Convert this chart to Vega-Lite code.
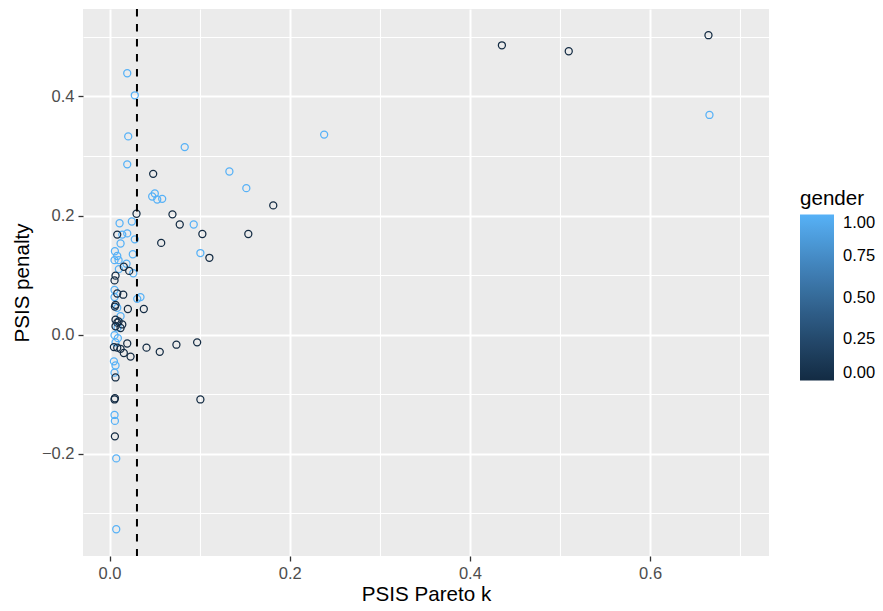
{
  "$schema": "https://vega.github.io/schema/vega-lite/v6.json",
  "width": 686,
  "height": 547,
  "autosize": {"type": "none"},
  "padding": {"left": 83, "top": 9, "right": 114, "bottom": 55},
  "background": "white",
  "config": {
    "view": {"fill": "#EBEBEB", "stroke": null},
    "font": "Liberation Sans",
    "axis": {
      "domain": false,
      "gridColor": "white",
      "tickColor": "#333333",
      "tickSize": 5,
      "tickWidth": 1.3,
      "labelColor": "#4D4D4D",
      "labelFontSize": 16.5,
      "labelFont": "Liberation Sans",
      "titleFont": "Liberation Sans",
      "titleFontSize": 20.6,
      "titleFontWeight": "normal",
      "titleColor": "black"
    }
  },
  "datasets": {
    "pts": [
      {"k": 0.0196, "penalty": 0.439, "gender": 1},
      {"k": 0.0280, "penalty": 0.402, "gender": 1},
      {"k": 0.0207, "penalty": 0.333, "gender": 1},
      {"k": 0.0834, "penalty": 0.315, "gender": 1},
      {"k": 0.0196, "penalty": 0.286, "gender": 1},
      {"k": 0.2382, "penalty": 0.336, "gender": 1},
      {"k": 0.1330, "penalty": 0.274, "gender": 1},
      {"k": 0.1518, "penalty": 0.246, "gender": 1},
      {"k": 0.0502, "penalty": 0.237, "gender": 1},
      {"k": 0.0473, "penalty": 0.232, "gender": 1},
      {"k": 0.0529, "penalty": 0.227, "gender": 1},
      {"k": 0.0584, "penalty": 0.228, "gender": 1},
      {"k": 0.0934, "penalty": 0.185, "gender": 1},
      {"k": 0.0111, "penalty": 0.187, "gender": 1},
      {"k": 0.0247, "penalty": 0.190, "gender": 1},
      {"k": 0.0141, "penalty": 0.168, "gender": 1},
      {"k": 0.0196, "penalty": 0.170, "gender": 1},
      {"k": 0.0280, "penalty": 0.160, "gender": 1},
      {"k": 0.0122, "penalty": 0.153, "gender": 1},
      {"k": 0.0059, "penalty": 0.140, "gender": 1},
      {"k": 0.0085, "penalty": 0.132, "gender": 1},
      {"k": 0.0055, "penalty": 0.125, "gender": 1},
      {"k": 0.0100, "penalty": 0.125, "gender": 1},
      {"k": 0.0258, "penalty": 0.135, "gender": 1},
      {"k": 0.0188, "penalty": 0.119, "gender": 1},
      {"k": 0.0103, "penalty": 0.110, "gender": 1},
      {"k": 0.0263, "penalty": 0.103, "gender": 1},
      {"k": 0.1008, "penalty": 0.137, "gender": 1},
      {"k": 0.0055, "penalty": 0.075, "gender": 1},
      {"k": 0.0055, "penalty": 0.063, "gender": 1},
      {"k": 0.0307, "penalty": 0.060, "gender": 1},
      {"k": 0.0343, "penalty": 0.063, "gender": 1},
      {"k": 0.0085, "penalty": 0.045, "gender": 1},
      {"k": 0.0122, "penalty": 0.031, "gender": 1},
      {"k": 0.0089, "penalty": 0.012, "gender": 1},
      {"k": 0.0055, "penalty": -0.001, "gender": 1},
      {"k": 0.0092, "penalty": -0.006, "gender": 1},
      {"k": 0.0066, "penalty": -0.013, "gender": 1},
      {"k": 0.0048, "penalty": -0.045, "gender": 1},
      {"k": 0.0066, "penalty": -0.052, "gender": 1},
      {"k": 0.0055, "penalty": -0.064, "gender": 1},
      {"k": 0.0055, "penalty": -0.135, "gender": 1},
      {"k": 0.0059, "penalty": -0.145, "gender": 1},
      {"k": 0.0074, "penalty": -0.208, "gender": 1},
      {"k": 0.0074, "penalty": -0.327, "gender": 1},
      {"k": 0.6659, "penalty": 0.369, "gender": 1},
      {"k": 0.4355, "penalty": 0.486, "gender": 0},
      {"k": 0.5097, "penalty": 0.476, "gender": 0},
      {"k": 0.6648, "penalty": 0.503, "gender": 0},
      {"k": 0.0484, "penalty": 0.270, "gender": 0},
      {"k": 0.1817, "penalty": 0.217, "gender": 0},
      {"k": 0.0299, "penalty": 0.203, "gender": 0},
      {"k": 0.0698, "penalty": 0.202, "gender": 0},
      {"k": 0.0779, "penalty": 0.185, "gender": 0},
      {"k": 0.1030, "penalty": 0.169, "gender": 0},
      {"k": 0.1540, "penalty": 0.169, "gender": 0},
      {"k": 0.0085, "penalty": 0.168, "gender": 0},
      {"k": 0.0573, "penalty": 0.154, "gender": 0},
      {"k": 0.1108, "penalty": 0.129, "gender": 0},
      {"k": 0.0158, "penalty": 0.114, "gender": 0},
      {"k": 0.0218, "penalty": 0.107, "gender": 0},
      {"k": 0.0066, "penalty": 0.099, "gender": 0},
      {"k": 0.0055, "penalty": 0.091, "gender": 0},
      {"k": 0.0085, "penalty": 0.069, "gender": 0},
      {"k": 0.0152, "penalty": 0.067, "gender": 0},
      {"k": 0.0066, "penalty": 0.050, "gender": 0},
      {"k": 0.0059, "penalty": 0.047, "gender": 0},
      {"k": 0.0203, "penalty": 0.043, "gender": 0},
      {"k": 0.0380, "penalty": 0.043, "gender": 0},
      {"k": 0.0066, "penalty": 0.025, "gender": 0},
      {"k": 0.0085, "penalty": 0.020, "gender": 0},
      {"k": 0.0141, "penalty": 0.017, "gender": 0},
      {"k": 0.0066, "penalty": 0.014, "gender": 0},
      {"k": 0.0122, "penalty": 0.011, "gender": 0},
      {"k": 0.0100, "penalty": 0.022, "gender": 0},
      {"k": 0.0048, "penalty": -0.021, "gender": 0},
      {"k": 0.0085, "penalty": -0.022, "gender": 0},
      {"k": 0.0122, "penalty": -0.024, "gender": 0},
      {"k": 0.0196, "penalty": -0.015, "gender": 0},
      {"k": 0.0158, "penalty": -0.031, "gender": 0},
      {"k": 0.0233, "penalty": -0.037, "gender": 0},
      {"k": 0.0410, "penalty": -0.022, "gender": 0},
      {"k": 0.0557, "penalty": -0.029, "gender": 0},
      {"k": 0.0742, "penalty": -0.017, "gender": 0},
      {"k": 0.0972, "penalty": -0.013, "gender": 0},
      {"k": 0.0066, "penalty": -0.072, "gender": 0},
      {"k": 0.0055, "penalty": -0.109, "gender": 0},
      {"k": 0.0059, "penalty": -0.107, "gender": 0},
      {"k": 0.1008, "penalty": -0.109, "gender": 0},
      {"k": 0.0059, "penalty": -0.171, "gender": 0}
    ]
  },
  "layer": [
    {
      "data": {"name": "pts"},
      "mark": {"type": "point", "opacity": 0},
      "encoding": {
        "x": {
          "field": "k", "type": "quantitative",
          "scale": {"domain": [-0.0295, 0.732], "nice": false, "zero": false},
          "axis": {"orient": "top", "values": [0.1, 0.3, 0.5, 0.7], "labels": false, "ticks": false, "domain": false, "grid": true, "gridWidth": 1.1, "title": null}
        },
        "y": {
          "field": "penalty", "type": "quantitative",
          "scale": {"domain": [-0.372, 0.547], "nice": false, "zero": false},
          "axis": {"orient": "right", "values": [-0.3, -0.1, 0.1, 0.3, 0.5], "labels": false, "ticks": false, "domain": false, "grid": true, "gridWidth": 1.1, "title": null}
        }
      }
    },
    {
      "data": {"name": "pts"},
      "mark": {"type": "point", "shape": "circle", "filled": false, "size": 50, "strokeWidth": 1.25, "opacity": 1},
      "encoding": {
        "x": {
          "field": "k", "type": "quantitative",
          "scale": {"domain": [-0.0295, 0.732], "nice": false, "zero": false},
          "axis": {"orient": "bottom", "values": [0, 0.2, 0.4, 0.6], "format": ".1f", "grid": true, "gridWidth": 2, "labelPadding": 4, "title": "PSIS Pareto k", "titlePadding": 3}
        },
        "y": {
          "field": "penalty", "type": "quantitative",
          "scale": {"domain": [-0.372, 0.547], "nice": false, "zero": false},
          "axis": {"orient": "left", "values": [-0.2, 0, 0.2, 0.4], "format": ".1f", "grid": true, "gridWidth": 2, "labelPadding": 4, "title": "PSIS penalty", "titlePadding": 9}
        },
        "color": {
          "field": "gender", "type": "quantitative",
          "scale": {"domain": [0, 1], "range": ["#132B43", "#56B1F7"]},
          "legend": {
            "title": "gender",
            "orient": "none",
            "legendX": 717,
            "legendY": 180,
            "titleFontSize": 20.6,
            "titleFontWeight": "normal",
            "titleColor": "black",
            "titlePadding": 5,
            "gradientLength": 166,
            "gradientThickness": 34,
            "gradientStrokeWidth": 0,
            "values": [0, 0.25, 0.5, 0.75, 1],
            "format": ".2f",
            "labelFontSize": 16.5,
            "labelColor": "black",
            "labelOffset": 9,
            "labelOverlap": false,
            "encode": {"labels": {"dy": {"signal": "datum.perc >= 0.999 ? -7 : datum.perc <= 0.001 ? 8 : 0"}}}
          }
        }
      }
    },
    {
      "data": {"values": [{}]},
      "mark": {"type": "rule", "color": "black", "strokeWidth": 2, "strokeDash": [7.5, 7.5]},
      "encoding": {
        "x": {"datum": 0.0304, "type": "quantitative", "axis": null}
      }
    }
  ],
  "resolve": {"axis": {"x": "independent", "y": "independent"}}
}
